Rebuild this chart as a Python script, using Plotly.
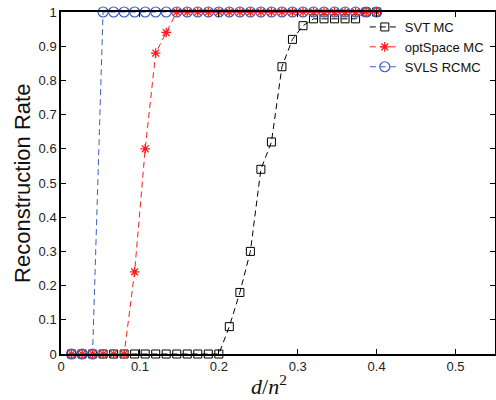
import plotly.graph_objects as go

# d/n^2 sample positions
x_vals = [0.0133, 0.0267, 0.04, 0.0533, 0.0667, 0.08, 0.0933, 0.1067, 0.12, 0.1333,
          0.1467, 0.16, 0.1733, 0.1867, 0.2, 0.2133, 0.2267, 0.24, 0.2533, 0.2667,
          0.28, 0.2933, 0.3067, 0.32, 0.3333, 0.3467, 0.36, 0.3733, 0.3867, 0.4]

svt_mc = [0, 0, 0, 0, 0, 0, 0, 0, 0, 0,
          0, 0, 0, 0, 0, 0.08, 0.18, 0.30, 0.54, 0.62,
          0.84, 0.92, 0.96, 0.98, 0.98, 0.98, 0.98, 0.98, 1, 1]
optspace_mc = [0, 0, 0, 0, 0, 0, 0.24, 0.60, 0.88, 0.94,
               1, 1, 1, 1, 1, 1, 1, 1, 1, 1,
               1, 1, 1, 1, 1, 1, 1, 1, 1, 1]
svls_rcmc = [0, 0, 0, 1, 1, 1, 1, 1, 1, 1,
             1, 1, 1, 1, 1, 1, 1, 1, 1, 1,
             1, 1, 1, 1, 1, 1, 1, 1, 1, 1]

x_ticks = [0, 0.1, 0.2, 0.3, 0.4, 0.5]
x_ticklabels = ["0", "0.1", "0.2", "0.3", "0.4", "0.5"]
y_ticks = [0, 0.1, 0.2, 0.3, 0.4, 0.5, 0.6, 0.7, 0.8, 0.9, 1]
y_ticklabels = ["0", "0.1", "0.2", "0.3", "0.4", "0.5", "0.6", "0.7", "0.8", "0.9", "1"]

BLACK = "#000000"
RED = "#FF1A1A"
BLUE = "#3D5EBF"
DASH = "6px,4px"

fig = go.Figure()
fig.add_trace(go.Scatter(
    x=x_vals, y=svt_mc, name="SVT MC", mode="lines+markers", legendrank=1,
    line=dict(color=BLACK, width=1, dash=DASH),
    marker=dict(symbol="square-open", size=8, color=BLACK, line=dict(width=1)),
    cliponaxis=False))
fig.add_trace(go.Scatter(
    x=x_vals, y=svls_rcmc, name="SVLS RCMC", mode="lines+markers", legendrank=3,
    line=dict(color=BLUE, width=1, dash=DASH),
    marker=dict(symbol="circle-open", size=10, color=BLUE, line=dict(width=1.2)),
    cliponaxis=False))
fig.add_trace(go.Scatter(
    x=x_vals, y=optspace_mc, name="optSpace MC", mode="lines+markers", legendrank=2,
    line=dict(color=RED, width=1, dash=DASH),
    marker=dict(symbol="asterisk-open", size=8, color=RED, line=dict(width=1.3, color=RED)),
    cliponaxis=False))

axis_common = dict(
    showline=True, linecolor="#000000", linewidth=1.5, mirror="ticks",
    ticks="inside", ticklen=5, tickwidth=1, tickcolor="#000000",
    showgrid=False, zeroline=False, automargin=False, ticklabeloverflow="allow",
    tickfont=dict(family="Liberation Sans, Arial, sans-serif", size=13, color="#222222"),
)

fig.update_layout(
    width=496, height=400,
    margin=dict(l=61, r=1, t=12, b=46),
    paper_bgcolor="white", plot_bgcolor="white",
    showlegend=True,
    legend=dict(x=0.70, y=1.0, xanchor="left", yanchor="top",
                bgcolor="rgba(0,0,0,0)", borderwidth=0,
                font=dict(family="Liberation Sans, Arial, sans-serif", size=13, color="#111111"),
                tracegroupgap=0, itemwidth=30),
    xaxis=dict(range=[0, 0.55], tickvals=x_ticks, ticktext=x_ticklabels, **axis_common),
    yaxis=dict(range=[0, 1], tickvals=y_ticks, ticktext=y_ticklabels, **axis_common),
    annotations=[
        dict(text="<i>d</i>/<i>n</i><sup>2</sup>", xref="paper", yref="paper",
             x=0.48, y=-0.09, xanchor="center", yanchor="middle", showarrow=False,
             font=dict(family="Liberation Serif, DejaVu Serif, serif", size=22, color="#111111")),
        dict(text="Reconstruction Rate", xref="paper", yref="paper",
             x=-0.09, y=0.5, xanchor="center", yanchor="middle", textangle=-90, showarrow=False,
             font=dict(family="Liberation Sans, Arial, sans-serif", size=22, color="#111111")),
    ],
)

# remove the default 8px page margin so the figure sits at the window origin
fig.write_html("out.html", config={"displayModeBar": False},
               post_script="document.body.style.margin='0';document.body.style.overflow='hidden';")
